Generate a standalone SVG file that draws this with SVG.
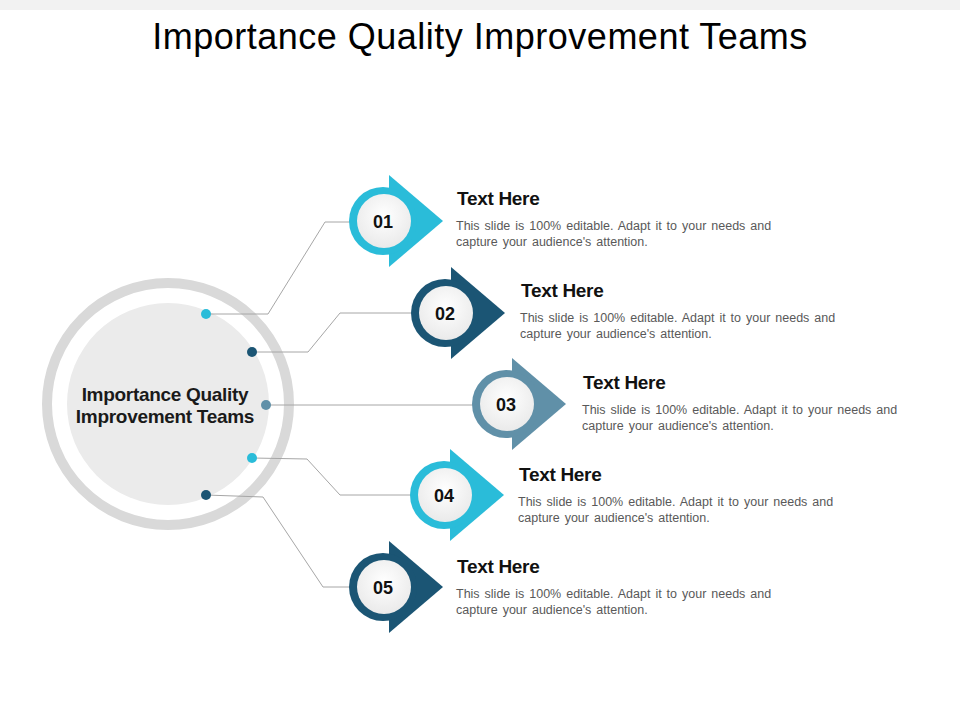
<svg xmlns="http://www.w3.org/2000/svg" width="960" height="720" viewBox="0 0 960 720">
<defs>
<radialGradient id="inner" cx="50%" cy="40%" r="60%">
<stop offset="0" stop-color="#FFFFFF"/>
<stop offset="1" stop-color="#EAEAEA"/>
</radialGradient>
<style>
.title{font-family:"Liberation Sans",Arial,sans-serif;font-size:36px;fill:#000;letter-spacing:0.5px}
.hub{font-family:"Liberation Sans",Arial,sans-serif;font-size:19px;font-weight:bold;fill:#1A1A1A;letter-spacing:-0.3px}
.num{font-family:"Liberation Sans",Arial,sans-serif;font-size:18px;font-weight:bold;fill:#111;text-anchor:middle}
.head{font-family:"Liberation Sans",Arial,sans-serif;font-size:19px;font-weight:bold;fill:#111;letter-spacing:-0.3px}
.desc{font-family:"Liberation Sans",Arial,sans-serif;font-size:12.5px;fill:#595959;word-spacing:1.5px}
.conn{fill:none;stroke:#A6A6A6;stroke-width:1}
.c1{fill:#2ABCD9}.c2{fill:#1B5574}.c3{fill:#6090A8}
</style>
</defs>
<rect x="0" y="0" width="960" height="720" fill="#FFFFFF"/>
<rect x="0" y="0" width="960" height="10" fill="#F2F2F2"/>
<text class="title" x="480" y="49" text-anchor="middle">Importance Quality Improvement Teams</text>

<g id="hub">
<circle cx="168" cy="404" r="121" fill="none" stroke="#D9D9D9" stroke-width="10"/>
<circle cx="168" cy="404" r="101" fill="#EBEBEB"/>
<text class="hub" x="165" y="401" text-anchor="middle">Importance Quality</text>
<text class="hub" x="165" y="423" text-anchor="middle">Improvement Teams</text>
</g>

<g id="connectors">
<polyline class="conn" points="206,314 268,314 325,222 352,222"/>
<polyline class="conn" points="252,352 308,352 340,313 414,313"/>
<polyline class="conn" points="266,405 476,405"/>
<polyline class="conn" points="252,458 307,459 340,495 412,495"/>
<polyline class="conn" points="206,495 263,497 323,587 352,587"/>
<circle class="c1" cx="206" cy="314" r="5"/>
<circle class="c2" cx="252" cy="352" r="5"/>
<circle class="c3" cx="266" cy="405" r="5"/>
<circle class="c1" cx="252" cy="458" r="5"/>
<circle class="c2" cx="206" cy="495" r="5"/>
</g>

<g id="node1">
<polygon class="c1" points="389,175 443,221 389,267"/>
<circle class="c1" cx="383" cy="221" r="34"/>
<circle cx="384" cy="221" r="27" fill="url(#inner)"/>
<text class="num" x="383" y="228">01</text>
<text class="head" x="457" y="205">Text Here</text>
<text class="desc" x="456" y="230">This slide is 100% editable. Adapt it to your needs and</text>
<text class="desc" x="456" y="246">capture your audience's attention.</text>
</g>

<g id="node2">
<polygon class="c2" points="451,267 505,313 451,359"/>
<circle class="c2" cx="445" cy="313" r="34"/>
<circle cx="446" cy="313" r="27" fill="url(#inner)"/>
<text class="num" x="445" y="320">02</text>
<text class="head" x="521" y="297">Text Here</text>
<text class="desc" x="520" y="322">This slide is 100% editable. Adapt it to your needs and</text>
<text class="desc" x="520" y="338">capture your audience's attention.</text>
</g>

<g id="node3">
<polygon class="c3" points="512,358 566,404 512,450"/>
<circle class="c3" cx="506" cy="404" r="34"/>
<circle cx="507" cy="404" r="27" fill="url(#inner)"/>
<text class="num" x="506" y="411">03</text>
<text class="head" x="583" y="389">Text Here</text>
<text class="desc" x="582" y="414">This slide is 100% editable. Adapt it to your needs and</text>
<text class="desc" x="582" y="430">capture your audience's attention.</text>
</g>

<g id="node4">
<polygon class="c1" points="450,449 504,495 450,541"/>
<circle class="c1" cx="444" cy="495" r="34"/>
<circle cx="445" cy="495" r="27" fill="url(#inner)"/>
<text class="num" x="444" y="502">04</text>
<text class="head" x="519" y="481">Text Here</text>
<text class="desc" x="518" y="506">This slide is 100% editable. Adapt it to your needs and</text>
<text class="desc" x="518" y="522">capture your audience's attention.</text>
</g>

<g id="node5">
<polygon class="c2" points="389,541 443,587 389,633"/>
<circle class="c2" cx="383" cy="587" r="34"/>
<circle cx="384" cy="587" r="27" fill="url(#inner)"/>
<text class="num" x="383" y="594">05</text>
<text class="head" x="457" y="573">Text Here</text>
<text class="desc" x="456" y="598">This slide is 100% editable. Adapt it to your needs and</text>
<text class="desc" x="456" y="614">capture your audience's attention.</text>
</g>
</svg>
